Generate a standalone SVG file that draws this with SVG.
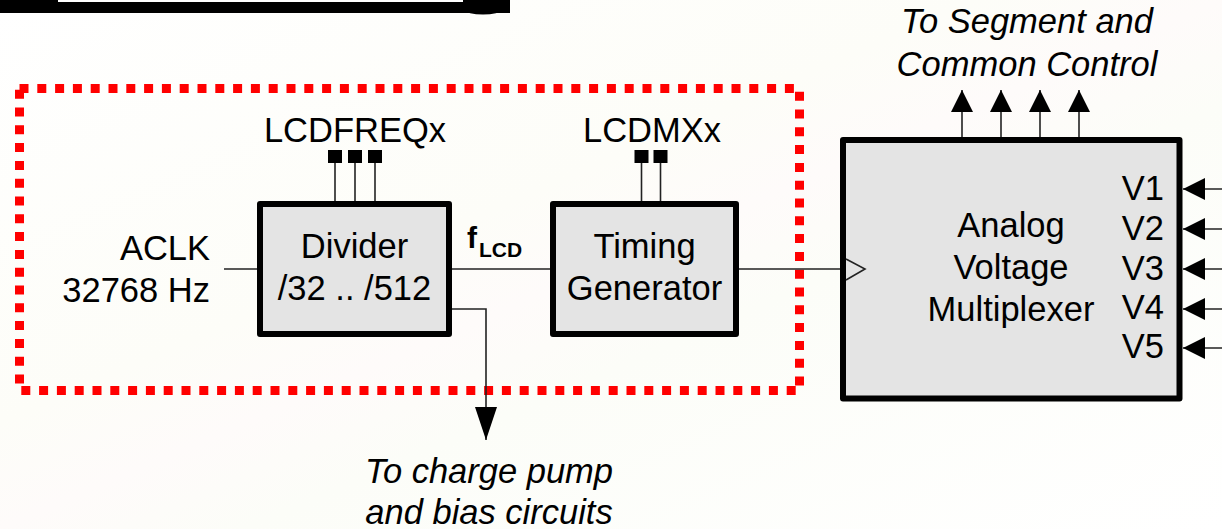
<svg xmlns="http://www.w3.org/2000/svg" width="1222" height="529" viewBox="0 0 1222 529">
  <defs>
    <linearGradient id="bgswoosh" x1="0" y1="0" x2="1" y2="1">
      <stop offset="0" stop-color="#ffffff"/>
      <stop offset="0.4" stop-color="#fdfdf8"/>
      <stop offset="0.5" stop-color="#fefbfa"/>
      <stop offset="0.6" stop-color="#fcfdf8"/>
      <stop offset="1" stop-color="#ffffff"/>
    </linearGradient>
    <marker id="ah" viewBox="0 0 22 22" refX="22" refY="11" markerWidth="22" markerHeight="22" markerUnits="userSpaceOnUse" orient="auto">
      <path d="M0,0 L22,11 L0,22 Z" fill="#000"/>
    </marker>
    <marker id="ahlong" viewBox="0 0 33 22" refX="33" refY="11" markerWidth="33" markerHeight="22" markerUnits="userSpaceOnUse" orient="auto">
      <path d="M0,0 L33,11 L0,22 Z" fill="#000"/>
    </marker>
    <style>
      .lbl { font-family: "Liberation Sans", Arial, Helvetica, sans-serif; font-size: 34.5px; fill: #000; }
      .it { font-style: italic; }
      .box { fill: #e4e4e4; stroke: #000; stroke-width: 6; stroke-linejoin: round; }
      .wire { fill: none; stroke: #222; stroke-width: 1.6; }
      .pin { fill: #000; }
    </style>
  </defs>

  <rect x="0" y="0" width="1222" height="529" fill="url(#bgswoosh)"/>

  <!-- cut-off title bar -->
  <g id="title-bar">
    <rect x="0" y="0" width="510" height="13" fill="#000"/>
    <rect x="58" y="0" width="405" height="2" fill="#fff"/>
    <ellipse cx="483" cy="10" rx="18" ry="4.5" fill="#000"/>
  </g>

  <!-- dashed LCD region -->
  <g id="region">
    <rect x="19.5" y="88.5" width="780" height="302" fill="none" stroke="#ff0000" stroke-width="9" stroke-dasharray="9 8.8"/>
  </g>

  <!-- connectors -->
  <g id="connectors">
    <line class="wire" x1="224" y1="269" x2="257" y2="269"/>
    <line class="wire" x1="449" y1="269" x2="553" y2="269"/>
    <line class="wire" x1="736" y1="269" x2="846" y2="269"/>
    <polyline class="wire" points="449,309 486,309 486,440" marker-end="url(#ahlong)"/>
    <line class="wire" x1="962" y1="140" x2="962" y2="90" marker-end="url(#ah)"/>
    <line class="wire" x1="1001" y1="140" x2="1001" y2="90" marker-end="url(#ah)"/>
    <line class="wire" x1="1040" y1="140" x2="1040" y2="90" marker-end="url(#ah)"/>
    <line class="wire" x1="1079" y1="140" x2="1079" y2="90" marker-end="url(#ah)"/>
    <line class="wire" x1="1222" y1="189" x2="1183" y2="189" marker-end="url(#ah)"/>
    <line class="wire" x1="1222" y1="229" x2="1183" y2="229" marker-end="url(#ah)"/>
    <line class="wire" x1="1222" y1="269" x2="1183" y2="269" marker-end="url(#ah)"/>
    <line class="wire" x1="1222" y1="309" x2="1183" y2="309" marker-end="url(#ah)"/>
    <line class="wire" x1="1222" y1="348" x2="1183" y2="348" marker-end="url(#ah)"/>
    <!-- LCDFREQx pins -->
    <line class="wire" x1="335" y1="163" x2="335" y2="201"/>
    <line class="wire" x1="355" y1="163" x2="355" y2="201"/>
    <line class="wire" x1="375" y1="163" x2="375" y2="201"/>
    <!-- LCDMXx pins -->
    <line class="wire" x1="641.5" y1="163" x2="641.5" y2="201"/>
    <line class="wire" x1="660.5" y1="163" x2="660.5" y2="201"/>
  </g>

  <g id="aclk">
    <text class="lbl" x="210" y="260" text-anchor="end">ACLK</text>
    <text class="lbl" x="210" y="302" text-anchor="end">32768 Hz</text>
  </g>

  <g id="lcdfreqx">
    <text class="lbl" x="355" y="142" text-anchor="middle">LCDFREQx</text>
    <rect class="pin" x="328" y="150" width="14" height="13"/>
    <rect class="pin" x="348" y="150" width="14" height="13"/>
    <rect class="pin" x="368" y="150" width="14" height="13"/>
  </g>

  <g id="lcdmxx">
    <text class="lbl" x="652" y="142" text-anchor="middle">LCDMXx</text>
    <rect class="pin" x="634.5" y="150" width="14" height="13"/>
    <rect class="pin" x="653.5" y="150" width="14" height="13"/>
  </g>

  <g id="divider">
    <rect class="box" x="260" y="204" width="189" height="130"/>
    <text class="lbl" x="354.5" y="258" text-anchor="middle">Divider</text>
    <text class="lbl" x="354.5" y="300" text-anchor="middle">/32 .. /512</text>
  </g>

  <g id="flcd">
    <text x="467" y="248" font-family="Liberation Sans, Arial, sans-serif" font-weight="bold" font-size="30" fill="#000">f</text>
    <text x="479" y="257" font-family="Liberation Sans, Arial, sans-serif" font-weight="bold" font-size="21" fill="#000">LCD</text>
  </g>

  <g id="timing">
    <rect class="box" x="553" y="204" width="183" height="130"/>
    <text class="lbl" x="644.5" y="258" text-anchor="middle">Timing</text>
    <text class="lbl" x="644.5" y="300" text-anchor="middle">Generator</text>
  </g>

  <g id="mux">
    <rect class="box" x="843" y="140" width="336.5" height="258.5"/>
    <polyline points="846,259 865,269 846,280" fill="none" stroke="#222" stroke-width="1.6"/>
    <text class="lbl" x="1011" y="237" text-anchor="middle">Analog</text>
    <text class="lbl" x="1011" y="279" text-anchor="middle">Voltage</text>
    <text class="lbl" x="1011" y="321" text-anchor="middle">Multiplexer</text>
    <text class="lbl" x="1164" y="200" text-anchor="end">V1</text>
    <text class="lbl" x="1164" y="240" text-anchor="end">V2</text>
    <text class="lbl" x="1164" y="280" text-anchor="end">V3</text>
    <text class="lbl" x="1164" y="319" text-anchor="end">V4</text>
    <text class="lbl" x="1164" y="358" text-anchor="end">V5</text>
  </g>

  <g id="seg-label">
    <text class="lbl it" x="1027" y="33" text-anchor="middle">To Segment and</text>
    <text class="lbl it" x="1027" y="76" text-anchor="middle">Common Control</text>
  </g>

  <g id="pump-label">
    <text class="lbl it" x="489" y="483" text-anchor="middle">To charge pump</text>
    <text class="lbl it" x="489" y="524" text-anchor="middle">and bias circuits</text>
  </g>
</svg>
